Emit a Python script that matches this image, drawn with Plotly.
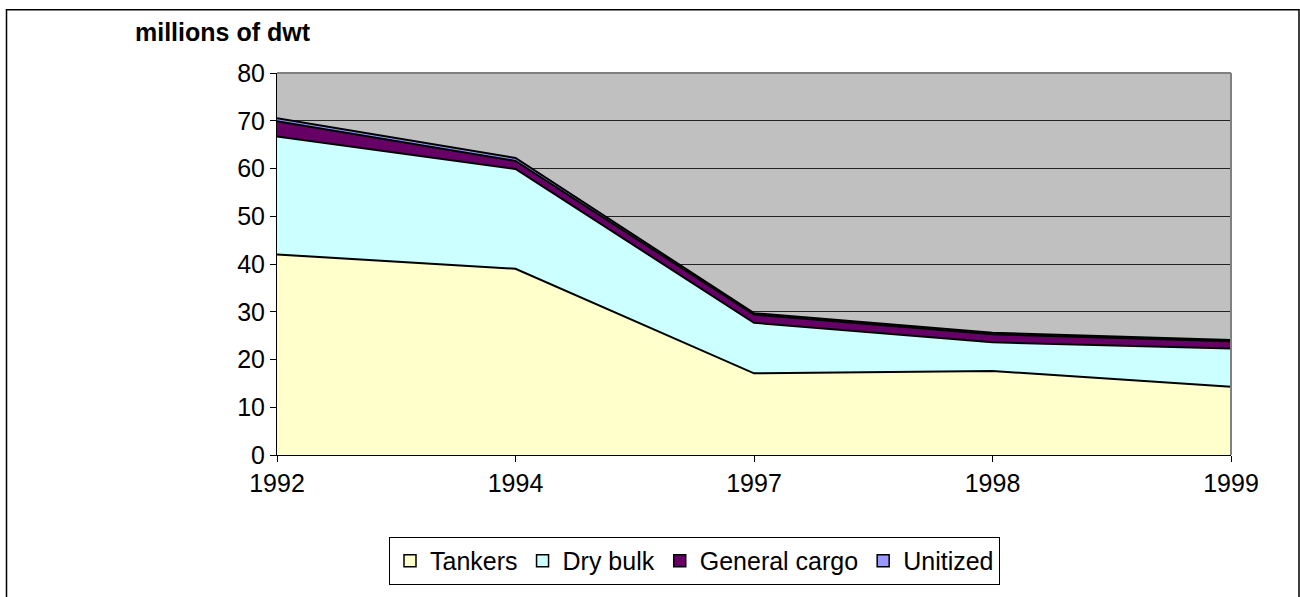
import plotly.graph_objects as go

years = ["1992", "1994", "1997", "1998", "1999"]
tankers = [42.0, 39.0, 17.1, 17.6, 14.3]
dry_bulk = [24.7, 20.9, 10.6, 6.0, 8.0]
general_cargo = [3.2, 1.7, 1.7, 1.7, 1.5]
unitized = [0.6, 0.6, 0.3, 0.3, 0.3]

series = [
    ("Tankers", tankers, "#FFFFCC"),
    ("Dry bulk", dry_bulk, "#CCFFFF"),
    ("General cargo", general_cargo, "#660066"),
    ("Unitized", unitized, "#9999FF"),
]

FONT = "Liberation Sans, Arial, sans-serif"

fig = go.Figure()
for name, vals, col in series:
    fig.add_trace(go.Scatter(
        x=years, y=vals, name=name, mode="lines",
        stackgroup="one", fillcolor=col,
        line=dict(color="black", width=2),
        showlegend=False, legendgroup=name,
        hoverinfo="x+y+name",
    ))
# legend-only square swatches
for name, vals, col in series:
    fig.add_trace(go.Bar(
        x=[None], y=[None], name=name, legendgroup=name,
        marker=dict(color=col, line=dict(color="black", width=1.5)),
        showlegend=True, hoverinfo="skip",
    ))

# plot area: x 277..1231, y 73..460 (px)
L, R, T, B = 277, 1231, 73, 460
W, H = R - L, B - T

def px(x):
    return (x - L) / W

def py(y):
    return (B - y) / H

fig.update_layout(
    width=1300, height=597,
    margin=dict(l=L, r=1300 - R, t=T, b=597 - B),
    paper_bgcolor="white",
    plot_bgcolor="#C0C0C0",
    font=dict(family=FONT, size=24, color="black"),
    showlegend=True,
    legend=dict(
        orientation="h", traceorder="normal",
        x=px(694.5), xanchor="center", y=py(543), yanchor="top",
        bordercolor="black", borderwidth=1, bgcolor="white",
        font=dict(family=FONT, size=25),
        itemwidth=30, tracegroupgap=0,
    ),
    xaxis=dict(
        type="category", range=[0, 4],
        showgrid=False, showline=True, linecolor="black", linewidth=1,
        ticks="outside", ticklen=6, tickcolor="black",
        tickfont=dict(size=25), zeroline=False,
    ),
    yaxis=dict(
        range=[0, 80], dtick=10, tick0=0,
        showgrid=True, gridcolor="#222222", gridwidth=1,
        showline=True, linecolor="black", linewidth=1,
        ticks="outside", ticklen=6, tickcolor="black",
        tickfont=dict(size=25), zeroline=False,
    ),
    annotations=[dict(
        text="<b>millions of dwt</b>", xref="paper", yref="paper",
        x=px(133), xanchor="left", y=py(31), yanchor="middle",
        showarrow=False, font=dict(family=FONT, size=25),
    )],
    shapes=[
        dict(type="line", xref="paper", yref="paper", x0=0, x1=1, y0=1, y1=1,
             line=dict(color="#808080", width=2), layer="above"),
        dict(type="line", xref="paper", yref="paper", x0=1, x1=1, y0=0, y1=1,
             line=dict(color="#808080", width=2), layer="above"),
        dict(type="rect", xref="paper", yref="paper",
             x0=px(6.5), x1=px(1299), y0=py(9), y1=py(620),
             line=dict(color="black", width=1.5), layer="above"),
    ],
)

fig.write_html("out.html", config={"displayModeBar": False},
               post_script="document.body.style.margin='0';")
